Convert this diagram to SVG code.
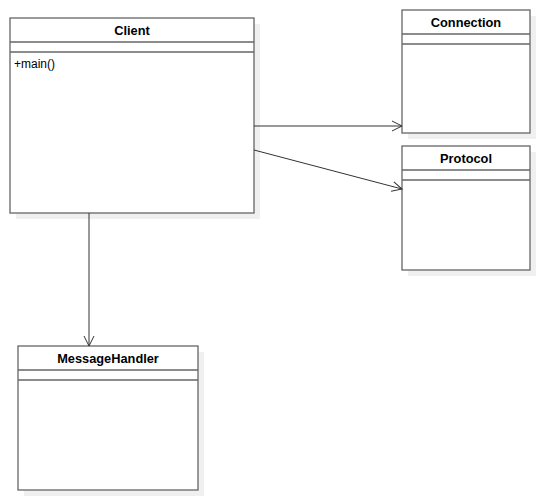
<svg xmlns="http://www.w3.org/2000/svg" width="540" height="500" viewBox="0 0 540 500">
<defs>
<style>
.box{fill:#fff;stroke:#666;stroke-width:1.3}
.sh{fill:#f0f0f0;stroke:none}
.sep{stroke:#666;stroke-width:1.3;fill:none}
.t{font-family:"Liberation Sans",Arial,sans-serif;font-size:12.8px;font-weight:bold;fill:#000;text-anchor:middle}
.m{font-family:"Liberation Sans",Arial,sans-serif;font-size:12px;fill:#000}
.c{stroke:#333;stroke-width:1;fill:none}
</style>
<marker id="open" markerWidth="12" markerHeight="12" refX="10" refY="5" orient="auto" markerUnits="userSpaceOnUse" viewBox="0 0 12 10">
<path d="M0,0 L10,5 L0,10" fill="none" stroke="#333" stroke-width="1"/>
</marker>
</defs>
<rect width="540" height="500" fill="#fff"/>
<g id="Client">
<rect class="sh" x="16" y="24" width="244" height="195"/>
<rect class="box" x="10" y="18" width="244" height="195"/>
<line class="sep" x1="10" y1="42" x2="254" y2="42"/>
<line class="sep" x1="10" y1="52" x2="254" y2="52"/>
<text class="t" x="132" y="35">Client</text>
<text class="m" x="14" y="68">+main()</text>
</g>
<g id="Connection">
<rect class="sh" x="408" y="16" width="128" height="123"/>
<rect class="box" x="402" y="10" width="128" height="123"/>
<line class="sep" x1="402" y1="34" x2="530" y2="34"/>
<line class="sep" x1="402" y1="44" x2="530" y2="44"/>
<text class="t" x="466" y="27">Connection</text>
</g>
<g id="Protocol">
<rect class="sh" x="408" y="152" width="128" height="124"/>
<rect class="box" x="402" y="146" width="128" height="124"/>
<line class="sep" x1="402" y1="170" x2="530" y2="170"/>
<line class="sep" x1="402" y1="180" x2="530" y2="180"/>
<text class="t" x="466" y="163">Protocol</text>
</g>
<g id="MessageHandler">
<rect class="sh" x="24" y="352" width="180" height="144"/>
<rect class="box" x="18" y="346" width="180" height="144"/>
<line class="sep" x1="18" y1="370" x2="198" y2="370"/>
<line class="sep" x1="18" y1="380" x2="198" y2="380"/>
<text class="t" x="108" y="363">MessageHandler</text>
</g>
<g id="connectors">
<line class="c" x1="254" y1="126" x2="402" y2="126" marker-end="url(#open)"/>
<line class="c" x1="254" y1="150" x2="402" y2="189" marker-end="url(#open)"/>
<line class="c" x1="89" y1="213" x2="89" y2="346" marker-end="url(#open)"/>
</g>
</svg>
